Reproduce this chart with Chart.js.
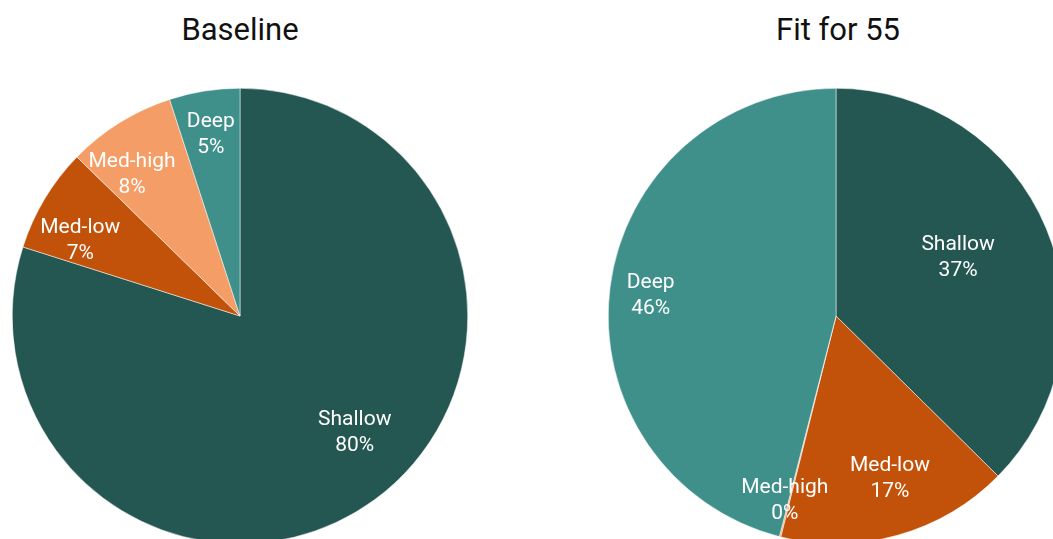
<!DOCTYPE html>
<html>
<head>
<meta charset="utf-8">
<script src="https://cdn.jsdelivr.net/npm/chart.js@4"></script>
<style>
    html, body { margin: 0; padding: 0; background: #fff; overflow: hidden; width: 1053px; height: 539px; }
    .title { position: absolute; top: 11px; width: 480px; line-height: 38px; text-align: center; font: 31px Roboto, sans-serif; color: #111; }
    .box { position: absolute; top: 0; width: 480px; height: 560px; }
</style>
</head>
<body>
<div class="title" style="left:0">Baseline</div>
<div class="title" style="left:598px">Fit for 55</div>
<div class="box" style="left:0"><canvas id="baseline"></canvas></div>
<div class="box" style="left:596px"><canvas id="fit55"></canvas></div>
<script>
// Data (percent of total)
const categories = ['Shallow', 'Med-low', 'Med-high', 'Deep'];
const baselineValues = [79.9, 7.4, 7.7, 5.0];
const fit55Values = [37.4, 16.5, 0.1, 46.0];

const colors = ['#255752', '#C2520A', '#F59D66', '#3F8F8A'];

// where the inside labels sit: share of the radius, and a small turn (degrees)
const baselineLabelRadius = [0.71, 0.78, 0.79, 0.82];
const baselineLabelTurn = [-9, -5, -5, 0];
const fit55LabelRadius = [0.6, 0.74, 0.83, 0.82];
const fit55LabelTurn = [-4, -3, 1.5, 0];

const insideLabels = {
    id: 'insideLabels',
    afterDatasetsDraw(chart, args, opts) {
        const ctx = chart.ctx;
        const meta = chart.getDatasetMeta(0);
        const values = chart.data.datasets[0].data;
        ctx.save();
        ctx.fillStyle = '#fff';
        ctx.font = '21px Roboto, sans-serif';
        ctx.textAlign = 'center';
        ctx.textBaseline = 'middle';
        meta.data.forEach((arc, i) => {
            const mid = (arc.startAngle + arc.endAngle) / 2 + opts.turn[i] * Math.PI / 180;
            const r = arc.outerRadius * opts.radius[i];
            const x = arc.x + Math.cos(mid) * r;
            const y = arc.y + Math.sin(mid) * r;
            ctx.fillText(chart.data.labels[i], x, y - 10);
            ctx.fillText(Math.round(values[i]) + '%', x, y + 16);
        });
        ctx.restore();
    }
};

function makePie(id, values, labelRadius, labelTurn) {
    return new Chart(document.getElementById(id), {
        type: 'pie',
        data: {
            labels: categories,
            datasets: [{
                data: values,
                backgroundColor: colors,
                borderColor: '#ffffff',
                borderWidth: 0.5
            }]
        },
        options: {
            responsive: true,
            maintainAspectRatio: false,
            animation: false,
            layout: { padding: { top: 88, bottom: 16, left: 12, right: 12 } },
            plugins: {
                legend: { display: false },
                tooltip: { enabled: false },
                insideLabels: { radius: labelRadius, turn: labelTurn }
            }
        },
        plugins: [insideLabels]
    });
}

makePie('baseline', baselineValues, baselineLabelRadius, baselineLabelTurn);
makePie('fit55', fit55Values, fit55LabelRadius, fit55LabelTurn);
</script>
</body>
</html>
